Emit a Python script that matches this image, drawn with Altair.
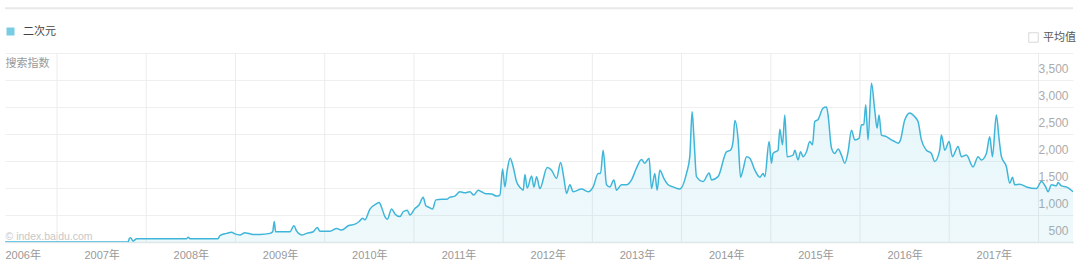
import altair as alt
import pandas as pd

# ---------------- data ----------------
years = [2006.417, 2007.796, 2007.812, 2007.824, 2007.852, 2007.893, 2008.453, 2008.471, 2008.490, 2008.804,
         2008.826, 2008.901, 2008.957, 2008.994, 2009.050, 2009.106, 2009.140, 2009.196, 2009.275, 2009.387,
         2009.417, 2009.435, 2009.450, 2009.611, 2009.655, 2009.686, 2009.742, 2009.798, 2009.872, 2009.917,
         2009.947, 2010.059, 2010.134, 2010.190, 2010.264, 2010.339, 2010.387, 2010.425, 2010.451, 2010.507,
         2010.574, 2010.611, 2010.638, 2010.675, 2010.701, 2010.750, 2010.787, 2010.843, 2010.880, 2010.925,
         2010.955, 2011.011, 2011.059, 2011.104, 2011.134, 2011.171, 2011.209, 2011.246, 2011.310, 2011.366,
         2011.403, 2011.459, 2011.515, 2011.571, 2011.627, 2011.672, 2011.720, 2011.758, 2011.796, 2011.871,
         2011.927, 2011.964, 2011.994, 2012.020, 2012.046, 2012.079, 2012.113, 2012.150, 2012.195, 2012.225,
         2012.244, 2012.270, 2012.319, 2012.345, 2012.375, 2012.412, 2012.494, 2012.543, 2012.599, 2012.644,
         2012.681, 2012.711, 2012.748, 2012.785, 2012.879, 2012.953, 2013.009, 2013.065, 2013.092, 2013.121,
         2013.159, 2013.196, 2013.241, 2013.271, 2013.327, 2013.383, 2013.439, 2013.495, 2013.551, 2013.588,
         2013.636, 2013.663, 2013.700, 2013.726, 2013.756, 2013.801, 2013.849, 2013.905, 2013.980, 2014.055,
         2014.092, 2014.118, 2014.140, 2014.167, 2014.241, 2014.309, 2014.335, 2014.409, 2014.503, 2014.548,
         2014.577, 2014.597, 2014.634, 2014.661, 2014.690, 2014.728, 2014.765, 2014.821, 2014.877, 2014.914,
         2014.933, 2014.981, 2015.007, 2015.025, 2015.081, 2015.101, 2015.131, 2015.157, 2015.183, 2015.250,
         2015.269, 2015.306, 2015.333, 2015.362, 2015.400, 2015.437, 2015.467, 2015.493, 2015.530, 2015.586,
         2015.624, 2015.642, 2015.680, 2015.717, 2015.754, 2015.792, 2015.829, 2015.866, 2015.904, 2015.941,
         2015.989, 2016.016, 2016.042, 2016.064, 2016.090, 2016.128, 2016.165, 2016.191, 2016.213, 2016.240,
         2016.296, 2016.352, 2016.389, 2016.426, 2016.453, 2016.501, 2016.557, 2016.613, 2016.650, 2016.688,
         2016.744, 2016.800, 2016.837, 2016.893, 2016.912, 2016.950, 2016.998, 2017.036, 2017.099, 2017.136,
         2017.192, 2017.267, 2017.323, 2017.360, 2017.416, 2017.454, 2017.484, 2017.528, 2017.558, 2017.585,
         2017.641, 2017.678, 2017.708, 2017.734, 2017.790, 2017.865, 2017.977, 2018.033, 2018.081, 2018.107,
         2018.145, 2018.201, 2018.219, 2018.257, 2018.313, 2018.387]

values = [500, 500, 570, 580, 520, 560, 560, 590, 560, 560, 620, 660, 680, 650, 630, 670, 660, 640, 640, 660,
          690, 880, 690, 690, 800, 700, 630, 660, 690, 770, 700, 700, 750, 720, 800, 830, 880, 940, 910, 1110,
          1200, 1230, 1140, 970, 920, 1110, 1020, 970, 1060, 1090, 1000, 1120, 1190, 1330, 1170, 1140, 1110, 1280, 1290, 1290,
          1330, 1350, 1430, 1410, 1430, 1370, 1460, 1430, 1400, 1390, 1350, 1370, 1850, 1520, 1830, 2050, 1890, 1620, 1500, 1460,
          1750, 1500, 1720, 1520, 1710, 1490, 1880, 1830, 1680, 1970, 1680, 1400, 1560, 1430, 1480, 1430, 1520, 1770, 1770, 2200,
          1560, 1520, 1650, 1460, 1560, 1560, 1650, 1870, 2030, 1960, 2050, 1490, 1770, 1460, 1830, 1680, 1560, 1520, 1480, 1770,
          2080, 2910, 2390, 1710, 1620, 1780, 1650, 1710, 2170, 2200, 2360, 2750, 2390, 1700, 1850, 2080, 2050, 1830, 1700, 1770,
          1710, 2360, 1960, 2140, 2200, 2590, 2300, 2850, 2080, 2110, 2200, 2020, 2170, 2080, 2170, 2360, 2300, 2730, 2770, 2980,
          3000, 2850, 2240, 2140, 2220, 2110, 1960, 2170, 2570, 2390, 2420, 2670, 2670, 3040, 2390, 3440, 2940, 2610, 2850, 2480,
          2450, 2390, 2360, 2330, 2390, 2760, 2890, 2820, 2730, 2390, 2200, 2140, 1990, 2200, 2480, 2200, 2360, 2080, 2270, 2080,
          2110, 1890, 2080, 2020, 2140, 2450, 2080, 2850, 2420, 2080, 1890, 1590, 1700, 1560, 1570, 1520, 1490, 1620, 1520, 1430,
          1560, 1540, 1600, 1540, 1520, 1430]

assert len(years) == len(values)

grid_years = list(range(2007, 2019))                              # year boundaries (vertical gridlines)
label_years = [2006.417] + [y + 0.5 for y in range(2007, 2018)]   # mid-year label anchors
y_ticks = [500, 1000, 1500, 2000, 2500, 3000, 3500, 4000]
x_domain = [2006.417, 2018.387]
y_domain = [500, 4000]

series_name = "二次元"
avg_name = "平均值"
y_title = "搜索指数"
watermark = "© index.baidu.com"

# ---------------- styling ----------------
W, H = 1068, 189
LINE_COLOR = "#3fb6d9"
FONT = "Liberation Sans, Noto Sans CJK SC"

df = pd.DataFrame({"yr": years, "value": values})
grid_df = pd.DataFrame({"yr": grid_years})
dummy = pd.DataFrame({"yr": [2010.0], "value": [0], "series": [series_name], "avg": [avg_name]})
one = pd.DataFrame({"k": [0]})

x_scale = alt.Scale(domain=x_domain, nice=False, zero=False)
y_scale = alt.Scale(domain=y_domain, nice=False, zero=False)

x_axis = alt.Axis(
    orient="bottom", values=label_years, labelExpr="floor(datum.value) + '年'",
    grid=False, ticks=False, tickSize=0, labelFlush=True,
    domain=True, domainColor="#dfe6e8", domainWidth=1.5,
    labelPadding=13, labelBaseline="middle", labelFontSize=11, labelColor="#999999", labelFont=FONT,
    title=watermark, titleX=0, titleY=-6, titleAlign="left", titleBaseline="middle",
    titleColor="#c8c8c8", titleFontSize=10.5, titleFontWeight="normal", titleFont=FONT,
)
y_axis = alt.Axis(
    orient="right", values=y_ticks,
    labelExpr="datum.value >= 4000 ? '' : format(datum.value, ',')",
    labelAlign="right", labelPadding=-5, labelOffset=-11.5, labelBaseline="middle",
    labelColor="#ababab", labelFontSize=12, labelFont=FONT,
    domain=False, ticks=False, tickSize=0, grid=True, gridColor="#efefef",
    title=y_title, titleAngle=0, titleX=-W, titleY=10, titleAlign="left", titleBaseline="middle",
    titleColor="#9a9a9a", titleFontSize=11, titleFontWeight="normal", titleFont=FONT,
)

vgrid = alt.Chart(grid_df).mark_rule(color="#ececec", strokeWidth=1).encode(
    x=alt.X("yr:Q", scale=x_scale, axis=None),
)

area = alt.Chart(df).mark_area(
    clip=True,
    color=alt.Gradient(
        gradient="linear",
        stops=[alt.GradientStop(color="rgba(64,185,220,0.13)", offset=0),
               alt.GradientStop(color="rgba(64,185,220,0.08)", offset=1)],
        x1=1, x2=1, y1=0, y2=1,
    ),
    interpolate="monotone",
).encode(
    x=alt.X("yr:Q", scale=x_scale, axis=x_axis),
    y=alt.Y("value:Q", scale=y_scale, axis=y_axis),
)

line = alt.Chart(df).mark_line(color=LINE_COLOR, strokeWidth=1.5, interpolate="monotone", clip=True).encode(
    x=alt.X("yr:Q", scale=x_scale, axis=None),
    y=alt.Y("value:Q", scale=y_scale, axis=None),
)

legend_series = alt.Chart(dummy).mark_square(clip=True, size=64).encode(
    x=alt.X("yr:Q", scale=x_scale, axis=None),
    y=alt.Y("value:Q", scale=y_scale, axis=None),
    color=alt.Color("series:N", scale=alt.Scale(range=[LINE_COLOR]), legend=alt.Legend(
        orient="none", legendX=0, legendY=-27, title=None, symbolType="square", symbolSize=64,
        symbolStrokeWidth=0, labelOffset=7, labelFontSize=11, labelColor="#444444", labelFont=FONT,
        padding=0,
    )),
)

legend_avg = alt.Chart(dummy).mark_point(clip=True, size=90, filled=False, color="#c9c9c9",
                                         strokeWidth=1).encode(
    x=alt.X("yr:Q", scale=x_scale, axis=None),
    y=alt.Y("value:Q", scale=y_scale, axis=None),
    shape=alt.Shape("avg:N", scale=alt.Scale(range=["square"]), legend=alt.Legend(
        orient="none", legendX=1023, legendY=-21, title=None, symbolSize=90,
        symbolStrokeWidth=1, labelOffset=4, labelFontSize=11, labelColor="#555555",
        labelFont=FONT, padding=0,
    )),
)

top_rule = alt.Chart(one).mark_rule(color="#e8e8e8", strokeWidth=2).encode(
    x=alt.value(0), x2=alt.value(W), y=alt.value(-44.7)
)

chart = alt.layer(vgrid, area, line, legend_series, legend_avg, top_rule).resolve_axis(
    x="independent", y="independent"
).properties(
    width=W, height=H,
    autosize=alt.AutoSizeParams(type="none"),
    padding={"left": 5, "top": 53, "right": 7, "bottom": 25},
    background="white",
).configure_view(stroke=None)

chart.save("out.html", embed_options={"renderer": "svg", "actions": False})
